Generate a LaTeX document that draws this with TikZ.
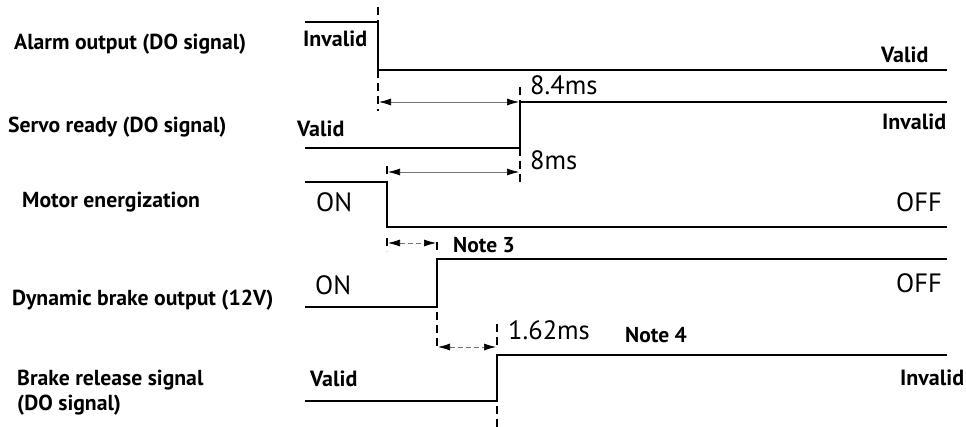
\documentclass[tikz,border=0pt]{standalone}
\usepackage{fontspec}
\setmainfont{PT Sans}
\usetikzlibrary{arrows.meta}
\begin{document}
\begin{tikzpicture}[x=1pt,y=-1pt,
  sig/.style={line width=2pt, line join=miter},
  guide/.style={line width=1.3pt, dash pattern=on 8pt off 5pt},
  dimline/.style={line width=0.7pt, draw=black!55,
    {Latex[length=12pt,width=7pt,black]}-{Latex[length=12pt,width=7pt,black]}},
  dimdash/.style={dimline, dash pattern=on 5pt off 3pt},
  lbl/.style={font=\bfseries\fontsize{21.7}{25}\selectfont, anchor=base west, inner sep=0pt},
  st/.style={font=\bfseries\fontsize{22}{26}\selectfont, anchor=base west, inner sep=0pt},
  big/.style={font=\fontsize{26.5}{30}\selectfont, anchor=base west, inner sep=0pt},
  note/.style={font=\bfseries\fontsize{21.5}{26}\selectfont, anchor=base west, inner sep=0pt}
]
\useasboundingbox (0,0) rectangle (966,427);

% left labels
\node[lbl] (l1) at (14,50) {Alarm output (DO signal)};
\node[lbl] (l2) at (8,133) {Servo ready (DO signal)};
\node[lbl] (l3) at (22,208) {Motor energization};
\node[lbl] (l4) at (12,306) {Dynamic brake output (12V)};
\node[lbl] (l5) at (17,385) {Brake release signal};
\node[lbl] (l6) at (17,410) {(DO signal)};

% transition coordinates
\coordinate (a0) at (305,22);  \coordinate (a1) at (378,22);
\coordinate (a2) at (378,70);  \coordinate (a3) at (947,70);
\coordinate (b0) at (305,148); \coordinate (b1) at (520,148);
\coordinate (b2) at (520,102); \coordinate (b3) at (947,102);
\coordinate (c0) at (305,182); \coordinate (c1) at (387,182);
\coordinate (c2) at (387,227); \coordinate (c3) at (947,227);
\coordinate (d0) at (305,307); \coordinate (d1) at (437,307);
\coordinate (d2) at (437,259); \coordinate (d3) at (947,259);
\coordinate (e0) at (305,401); \coordinate (e1) at (497,401);
\coordinate (e2) at (497,355); \coordinate (e3) at (947,355);

% signals
\draw[sig] (a0) -- (a1) -- (a2) -- (a3);
\draw[sig] (b0) -- (b1) -- (b2) -- (b3);
\draw[sig] (c0) -- (c1) -- (c2) -- (c3);
\draw[sig] (d0) -- (d1) -- (d2) -- (d3);
\draw[sig] (e0) -- (e1) -- (e2) -- (e3);

% guide coordinates
\coordinate (ga0) at (378,7);   \coordinate (ga1) at (378,111);
\coordinate (gb0) at (520,87);  \coordinate (gb1) at (520,183);
\coordinate (gc0) at (387,166); \coordinate (gc1) at (387,176);
\coordinate (gc2) at (387,238); \coordinate (gc3) at (387,251);
\coordinate (gd0) at (437,242); \coordinate (gd1) at (437,250);
\coordinate (gd2) at (437,312); \coordinate (gd3) at (437,350);
\coordinate (ge0) at (497,324); \coordinate (ge1) at (497,348);
\coordinate (ge2) at (497,406); \coordinate (ge3) at (497,427);

% dashed guides
\draw[guide] (ga0) -- (a1);
\draw[guide] (a2) -- (ga1);
\draw[guide] (gb0) -- (b2);
\draw[guide] (b1) -- (gb1);
\draw[guide] (gc0) -- (gc1);
\draw[guide] (gc2) -- (gc3);
\draw[guide] (gd0) -- (gd1);
\draw[guide] (gd2) -- (gd3);
\draw[guide] (ge0) -- (ge1);
\draw[guide] (ge2) -- (ge3);

% dimension arrows
\coordinate (m1a) at (379,102); \coordinate (m1b) at (519,102);
\coordinate (m2a) at (388,172); \coordinate (m2b) at (519,172);
\coordinate (m3a) at (388,243); \coordinate (m3b) at (436,243);
\coordinate (m4a) at (438,347); \coordinate (m4b) at (496,347);
\draw[dimline] (m1a) -- (m1b);
\draw[dimline] (m2a) -- (m2b);
\draw[dimdash] (m3a) -- (m3b);
\draw[dimdash] (m4a) -- (m4b);

% state texts
\node[st] (s1) at (303,47) {Invalid};
\node[st] (s2) at (881,63) {Valid};
\node[st] (s3) at (297,137) {Valid};
\node[st] (s4) at (882,130) {Invalid};
\node[big] (s5) at (316,212) {ON};
\node[big] (s6) at (896,212) {OFF};
\node[big] (s7) at (315,295) {ON};
\node[big] (s8) at (896,293) {OFF};
\node[st] (s9) at (310,386) {Valid};
\node[st] (s10) at (900,385) {Invalid};

% timing texts
\node[big] (t1) at (530,95) {8.4ms};
\node[big] (t2) at (530,170) {8ms};
\node[big] (t3) at (508,340) {1.62ms};
\node[note] (n3) at (453,253) {Note 3};
\node[note] (n4) at (625,342) {Note 4};
\end{tikzpicture}
\end{document}
